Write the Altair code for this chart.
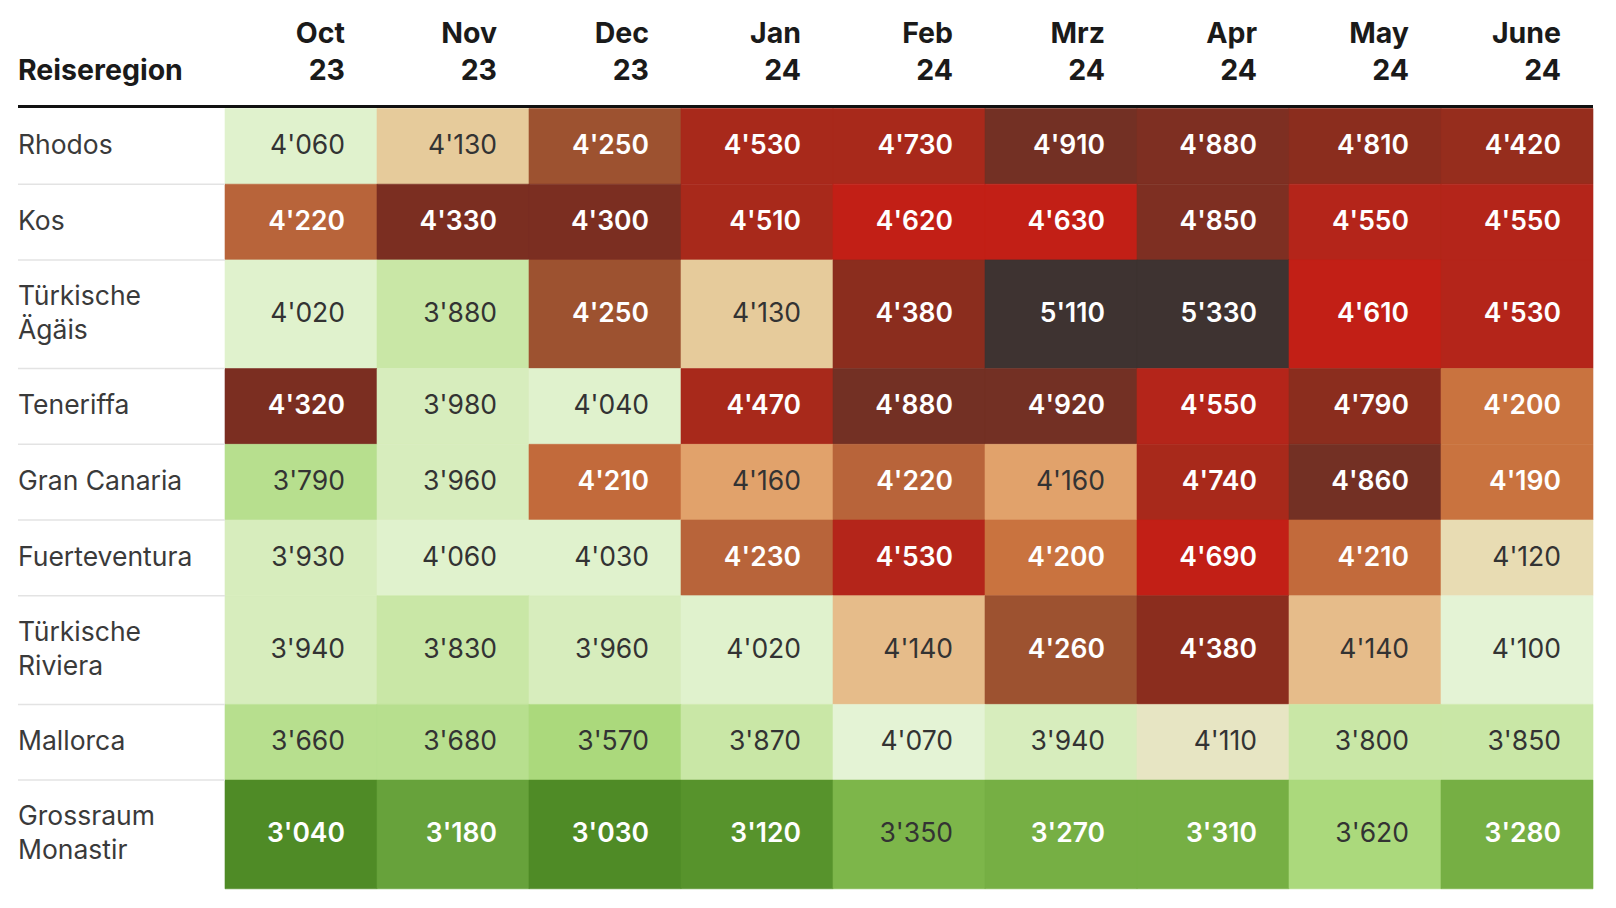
import altair as alt
import pandas as pd

# ---------------- data ----------------
region_lines = [
    ["Rhodos"],
    ["Kos"],
    ["Türkische", "Ägäis"],
    ["Teneriffa"],
    ["Gran Canaria"],
    ["Fuerteventura"],
    ["Türkische", "Riviera"],
    ["Mallorca"],
    ["Grossraum", "Monastir"],
]
months = ["Oct", "Nov", "Dec", "Jan", "Feb", "Mrz", "Apr", "May", "June"]
years = ["23", "23", "23", "24", "24", "24", "24", "24", "24"]
header_label = "Reiseregion"

prices = [
    [4060, 4130, 4250, 4530, 4730, 4910, 4880, 4810, 4420],
    [4220, 4330, 4300, 4510, 4620, 4630, 4850, 4550, 4550],
    [4020, 3880, 4250, 4130, 4380, 5110, 5330, 4610, 4530],
    [4320, 3980, 4040, 4470, 4880, 4920, 4550, 4790, 4200],
    [3790, 3960, 4210, 4160, 4220, 4160, 4740, 4860, 4190],
    [3930, 4060, 4030, 4230, 4530, 4200, 4690, 4210, 4120],
    [3940, 3830, 3960, 4020, 4140, 4260, 4380, 4140, 4100],
    [3660, 3680, 3570, 3870, 4070, 3940, 4110, 3800, 3850],
    [3040, 3180, 3030, 3120, 3350, 3270, 3310, 3620, 3280],
]

# shading class of each cell
shades = [
    ["L0", "T", "B", "R", "R", "DD", "DM", "DR", "RB"],
    ["O3", "DB", "DB", "R", "BR", "BR", "DM", "RR", "RR"],
    ["L0", "G0", "B", "T", "DR", "X", "X", "BR", "RR"],
    ["DB", "L1", "L0", "R", "DD", "DD", "RR", "DR", "O2"],
    ["G1", "L1", "O2b", "O", "O3", "O", "R", "DD", "O2"],
    ["L1", "L0", "L0", "O3", "RR", "O2", "BR", "O2b", "N2"],
    ["L1", "G0", "L1", "L0", "T2", "B", "DR", "T2", "L00"],
    ["G1", "G1", "G2", "G0", "L00", "L1", "N", "G0", "G0"],
    ["G5", "G4", "G5", "G5b", "G3", "G3w", "G3w", "G2", "G3w"],
]

shade_domain = ["G5", "G5b", "G4", "G3w", "G3", "G2", "G1", "G0", "L1", "L0", "L00",
                "N", "N2", "T", "T2", "O", "O2", "O2b", "O3", "B", "DB", "DD", "DM", "DR",
                "RB", "R", "RR", "BR", "X"]
shade_colors = ["#4f8b26", "#57932c", "#67a23b", "#76af44", "#7db64a", "#abd97c",
                "#b7df8e", "#c9e7a6", "#d7edbd", "#e0f2cd", "#e4f3d5",
                "#e7e5c3", "#e8dcb3", "#e6cb9b", "#e6bc8a", "#e1a26b", "#c9733f",
                "#c26a3b", "#b8643a", "#9d5230", "#7b2e21", "#733024", "#7e2f22", "#8b2d1e",
                "#962d1d", "#a8291b", "#b4251a", "#c21f16", "#3e3331"]
white_text_shades = {"G5", "G5b", "G4", "G3w", "O2", "O2b", "O3", "B", "DB", "DD", "DM",
                     "DR", "RB", "R", "RR", "BR", "X"}

# ---------------- layout constants ----------------
W, H = 1616, 908
LEFT = 18            # table left edge
CELL_LEFT = 225      # first data column
COL_W = 152
PAD_R = 32
ROW_TOP = 108.5
ROW_H1 = 75.7
ROW_EXTRA = 33.0
LABEL_LH = 34
HDR_LH = 37
FONT = "Inter, 'IBM Plex Sans', Roboto, 'DejaVu Sans', sans-serif"
FS_CELL = 26.5
FS_LABEL = 26.5
FS_HDR = 28.5


def fmt(v):
    return f"{v:,}".replace(",", "'")


cells, rlabels, seps = [], [], []
top = ROW_TOP
for i, lines in enumerate(region_lines):
    h = ROW_H1 + (len(lines) - 1) * ROW_EXTRA
    yc = top + h / 2
    rlabels.append({"x": LEFT, "y": yc - (len(lines) - 1) * LABEL_LH / 2, "label": lines})
    if i > 0:
        seps.append({"x": LEFT, "x2": CELL_LEFT, "y": top})
    for j, m in enumerate(months):
        x0 = CELL_LEFT + j * COL_W
        s = shades[i][j]
        cells.append({
            "x0": x0, "x1": x0 + COL_W, "y0": top, "y1": top + h, "yc": yc,
            "xt": x0 + COL_W - PAD_R, "value": fmt(prices[i][j]), "shade": s,
            "white": s in white_text_shades,
        })
    top += h

cells_df = pd.DataFrame(cells)
rl_df = pd.DataFrame(rlabels)
sep_df = pd.DataFrame(seps)
hdr_df = pd.DataFrame({
    "x": [CELL_LEFT + (j + 1) * COL_W - PAD_R for j in range(len(months))],
    "y": [34] * len(months),
    "label": [[m, y] for m, y in zip(months, years)],
})
title_df = pd.DataFrame({"x": [LEFT], "y": [71], "label": [header_label]})
line_df = pd.DataFrame({"x": [LEFT], "x2": [CELL_LEFT + len(months) * COL_W], "y": [106.5]})

xs = alt.Scale(domain=[0, W], nice=False, zero=False)
ys = alt.Scale(domain=[0, H], nice=False, zero=False, reverse=True)
cs = alt.Scale(domain=shade_domain, range=shade_colors)

rects = alt.Chart(cells_df).mark_rect(strokeWidth=0.6).encode(
    x=alt.X("x0:Q", scale=xs, axis=None), x2="x1:Q",
    y=alt.Y("y0:Q", scale=ys, axis=None), y2="y1:Q",
    color=alt.Color("shade:N", scale=cs, legend=None),
    stroke=alt.Stroke("shade:N", scale=cs, legend=None),
)

txt_dark = alt.Chart(cells_df).transform_filter("!datum.white").mark_text(
    align="right", baseline="middle", font=FONT, fontSize=FS_CELL, color="#333333",
    fontWeight="normal").encode(
    x=alt.X("xt:Q", scale=xs, axis=None), y=alt.Y("yc:Q", scale=ys, axis=None),
    text="value:N")

txt_white = alt.Chart(cells_df).transform_filter("datum.white").mark_text(
    align="right", baseline="middle", font=FONT, fontSize=FS_CELL, color="#ffffff",
    fontWeight=600).encode(
    x=alt.X("xt:Q", scale=xs, axis=None), y=alt.Y("yc:Q", scale=ys, axis=None),
    text="value:N")

row_labels = alt.Chart(rl_df).mark_text(
    align="left", baseline="middle", font=FONT, fontSize=FS_LABEL, color="#3a3a3a",
    lineHeight=LABEL_LH).encode(
    x=alt.X("x:Q", scale=xs, axis=None), y=alt.Y("y:Q", scale=ys, axis=None),
    text="label")

seps_layer = alt.Chart(sep_df).mark_rule(color="#e3e3e3", strokeWidth=1.5).encode(
    x=alt.X("x:Q", scale=xs, axis=None), x2="x2:Q",
    y=alt.Y("y:Q", scale=ys, axis=None))

header = alt.Chart(hdr_df).mark_text(
    align="right", baseline="middle", font=FONT, fontSize=FS_HDR, fontWeight="bold",
    color="#1a1a1a", lineHeight=HDR_LH).encode(
    x=alt.X("x:Q", scale=xs, axis=None), y=alt.Y("y:Q", scale=ys, axis=None),
    text="label")

title = alt.Chart(title_df).mark_text(
    align="left", baseline="middle", font=FONT, fontSize=FS_HDR, fontWeight="bold",
    color="#1a1a1a").encode(
    x=alt.X("x:Q", scale=xs, axis=None), y=alt.Y("y:Q", scale=ys, axis=None),
    text="label:N")

hline = alt.Chart(line_df).mark_rule(color="#111111", strokeWidth=3).encode(
    x=alt.X("x:Q", scale=xs, axis=None), x2="x2:Q",
    y=alt.Y("y:Q", scale=ys, axis=None))

chart = alt.layer(rects, seps_layer, txt_dark, txt_white, row_labels, header, title, hline).properties(
    width=W, height=H, autosize="none", padding=0, background="#ffffff"
).configure_view(stroke=None)

chart.save("out.html", embed_options={"renderer": "svg", "actions": False})
